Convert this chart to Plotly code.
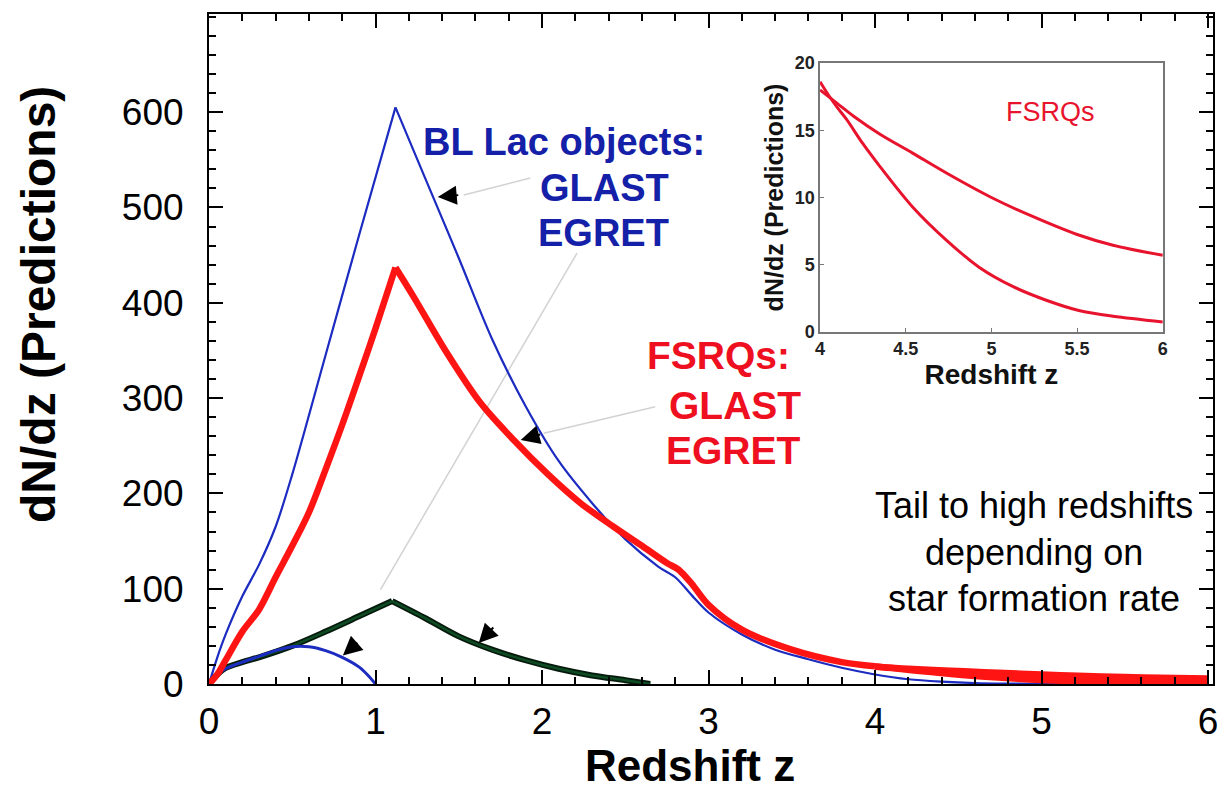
import plotly.graph_objects as go

# ---------------- data ----------------
# BL Lac objects, GLAST prediction (thin blue)
z_bl_glast = [0, 0.05, 0.1, 0.2, 0.3, 0.4, 0.5, 0.7, 0.9, 1.12, 1.3, 1.5, 1.7, 1.9, 2.1,
              2.3, 2.5, 2.7, 2.8, 2.9, 3.0, 3.2, 3.4, 3.6, 3.8, 4.0, 4.2, 4.4, 4.6, 4.8, 5.0, 6.0]
n_bl_glast = [0, 28, 52, 92, 125, 165, 220, 345, 470, 605, 530, 447, 362, 292, 234,
              190, 152, 123, 112, 93, 75, 52, 36, 26, 17, 10, 5, 2.5, 1, 0.4, 0.1, 0]

# FSRQs, GLAST prediction (thick red), up to z = 4
z_fsrq_glast = [0, 0.05, 0.1, 0.2, 0.3, 0.4, 0.5, 0.6, 0.7, 0.8, 0.9, 1.0, 1.12, 1.23, 1.43,
                1.63, 1.83, 2.03, 2.23, 2.43, 2.6, 2.75, 2.82, 2.9, 3.0, 3.2, 3.5, 3.8, 4.0]
n_fsrq_glast = [0, 10, 25, 55, 78, 112, 145, 180, 225, 272, 322, 373, 437, 406, 347,
                295, 256, 221, 190, 165, 145, 127, 120, 105, 83, 57, 36, 23, 18.6]

# FSRQs, EGRET (dark green)
z_fsrq_egret = [0, 0.05, 0.1, 0.2, 0.3, 0.5, 0.7, 0.9, 1.1, 1.3, 1.5, 1.7, 1.9, 2.1, 2.3, 2.5, 2.65]
n_fsrq_egret = [0, 10, 17, 23, 28, 40, 55, 71, 87, 69, 50, 36, 25, 16, 9, 4, 0]

# BL Lac objects, EGRET (small blue)
z_bl_egret = [0, 0.05, 0.1, 0.2, 0.3, 0.4, 0.5, 0.6, 0.7, 0.8, 0.9, 0.95, 1.0]
n_bl_egret = [0, 10, 16, 23, 29, 35, 39, 39, 35, 28, 18, 10, 0]

# High-redshift FSRQ tails (inset), two star-formation-rate scenarios
z_tail_high = [4.0, 4.1, 4.2, 4.35, 4.54, 4.74, 5.0, 5.22, 5.5, 5.71, 6.0]
n_tail_high = [18.0, 17.0, 16.0, 14.7, 13.3, 11.8, 10.0, 8.7, 7.25, 6.45, 5.7]
z_tail_low = [4.0, 4.05, 4.1, 4.155, 4.25, 4.35, 4.54, 4.74, 4.93, 5.13, 5.32, 5.51, 5.71, 6.0]
n_tail_low = [18.6, 17.6, 16.7, 15.8, 14.0, 12.3, 9.3, 6.8, 4.8, 3.35, 2.36, 1.6, 1.17, 0.75]

main_xticks = [0, 1, 2, 3, 4, 5, 6]
main_yticks = [0, 100, 200, 300, 400, 500, 600]
inset_xticks = [4, 4.5, 5, 5.5, 6]
inset_xticklabels = ["4", "4.5", "5", "5.5", "6"]
inset_yticks = [0, 5, 10, 15, 20]

# ---------------- styling ----------------
FONT = "Liberation Sans, Arial, Helvetica, sans-serif"
BLUE = "#1c2bc0"
BLUE_TXT = "#1420a8"
RED = "#ff1414"
RED_TXT = "#ee1020"
GREEN = "#0e4a22"
INSET_RED = "#e8142e"

# the page body has an 8px margin: size the figure so the plot lands where the reference has it
PAGE_OFF = 8
PLOT_L, PLOT_R, PLOT_T, PLOT_B = 209, 1213, 14, 684   # plot frame in window pixels
W, H = 1226 - PAGE_OFF, 796 - PAGE_OFF

fig = go.Figure()


def add_curve(xs, ys, color, width, split_at_peak=True, **kw):
    """Draw a curve as smooth splines; keep a sharp cusp at the maximum."""
    if split_at_peak:
        k = ys.index(max(ys))
        pieces = [(xs[:k + 1], ys[:k + 1]), (xs[k:], ys[k:])]
    else:
        pieces = [(xs, ys)]
    for px, py in pieces:
        fig.add_trace(go.Scatter(x=px, y=py, mode="lines",
                                 line=dict(color=color, width=width, shape="spline", smoothing=0.9),
                                 **kw))


# main curves (green line has a dark outline)
add_curve(z_fsrq_egret, n_fsrq_egret, "#051a0c", 6, cliponaxis=False)
add_curve(z_fsrq_egret, n_fsrq_egret, GREEN, 2.6, cliponaxis=False)
add_curve(z_bl_egret, n_bl_egret, BLUE, 3, split_at_peak=False, cliponaxis=False)
add_curve(z_bl_glast, n_bl_glast, BLUE, 2.2, cliponaxis=False)
add_curve(z_fsrq_glast, n_fsrq_glast, RED, 6.5, cliponaxis=False)
add_curve(z_tail_high, n_tail_high, RED, 6.5, split_at_peak=False, cliponaxis=False)
add_curve(z_tail_low, n_tail_low, RED, 6.5, split_at_peak=False, cliponaxis=False)

# inset curves
add_curve(z_tail_high, n_tail_high, INSET_RED, 3, split_at_peak=False, xaxis="x2", yaxis="y2")
add_curve(z_tail_low, n_tail_low, INSET_RED, 3, split_at_peak=False, xaxis="x2", yaxis="y2")

axis_common = dict(showline=True, linecolor="black", linewidth=2, mirror="allticks",
                   ticks="inside", tickcolor="black", tickwidth=2, ticklen=14,
                   showgrid=False, zeroline=False, automargin=False,
                   tickfont=dict(family=FONT, size=37, color="black"))

fig.update_layout(
    width=W, height=H,
    margin=dict(l=PLOT_L - PAGE_OFF, r=1226 - PLOT_R, t=PLOT_T - PAGE_OFF, b=796 - PLOT_B,
                autoexpand=False),
    paper_bgcolor="white", plot_bgcolor="white",
    showlegend=False,
    xaxis=dict(range=[0, 6.03], tickvals=main_xticks, domain=[0, 1], ticklabelstandoff=4,
               minor=dict(ticks="inside", dtick=0.2, ticklen=7, tickwidth=1.5, tickcolor="black"),
               **axis_common),
    yaxis=dict(range=[0, 703], tickvals=main_yticks, domain=[0, 1], ticklabelstandoff=16,
               minor=dict(ticks="inside", dtick=20, ticklen=7, tickwidth=1.5, tickcolor="black"),
               **axis_common),
    xaxis2=dict(domain=[0.6086, 0.950], anchor="y2", range=[4, 6], tickvals=inset_xticks,
                ticktext=inset_xticklabels, automargin=False,
                showline=True, linecolor="#777", linewidth=1.5, mirror=True,
                ticks="inside", ticklen=4, tickcolor="#777", showgrid=False, zeroline=False,
                tickfont=dict(family=FONT, size=18, color="#222", weight="bold"),
                title=dict(text="Redshift z", standoff=2,
                           font=dict(family=FONT, size=28, color="#111", weight="bold"))),
    yaxis2=dict(domain=[0.5254, 0.9269], anchor="x2", range=[0, 20], tickvals=inset_yticks,
                automargin=False,
                showline=True, linecolor="#777", linewidth=1.5, mirror=True,
                ticks="inside", ticklen=4, tickcolor="#777", showgrid=False, zeroline=False,
                tickfont=dict(family=FONT, size=18, color="#222", weight="bold"),
                title=dict(text="dN/dz (Predictions)", standoff=4,
                           font=dict(family=FONT, size=25, color="#111", weight="bold"))),
)

# white background for the inset
fig.add_shape(type="rect", xref="paper", yref="paper", x0=0.6086, x1=0.950, y0=0.5254, y1=0.9269,
              fillcolor="white", line=dict(width=0), layer="below")


def px_to_paper(x, y):
    return (x - PLOT_L) / (PLOT_R - PLOT_L), (PLOT_B - y) / (PLOT_B - PLOT_T)


# axis titles of the main panel
tx, ty = px_to_paper(690, 765)
fig.add_annotation(text="<b>Redshift z</b>", xref="paper", yref="paper", x=tx, y=ty,
                   xanchor="center", yanchor="middle", showarrow=False,
                   font=dict(family=FONT, size=44, color="black"))
tx, ty = px_to_paper(38, 305)
fig.add_annotation(text="<b>dN/dz (Predictions)</b>", xref="paper", yref="paper", x=tx, y=ty,
                   xanchor="center", yanchor="middle", textangle=-90, showarrow=False,
                   font=dict(family=FONT, size=48, color="black"))

# gray leader lines (data coordinates), drawn beneath the curves
leaders = [
    (1.93, 531, 1.53, 513),   # BL Lac GLAST
    (2.21, 452, 1.03, 99),    # BL Lac EGRET
    (2.68, 291, 2.01, 263),   # FSRQ GLAST
]
for x0, y0, x1, y1 in leaders:
    fig.add_shape(type="line", x0=x0, y0=y0, x1=x1, y1=y1, xref="x", yref="y",
                  line=dict(color="#d2d2d2", width=1.5), layer="below")

# black arrowheads
arrows = [
    (1.374, 511, 22, -2),
    (1.872, 256, 21, -6),
    (0.804, 30, 16, -14),
    (1.62, 43, 16, -17),
]
for x, y, ax, ay in arrows:
    fig.add_annotation(x=x, y=y, xref="x", yref="y", ax=ax, ay=ay, axref="pixel", ayref="pixel",
                       text="", showarrow=True, arrowhead=2, arrowsize=1.9, arrowwidth=2,
                       arrowcolor="black")


# text labels
def label(text, x, y, color, size, anchor="right", bold=True):
    lx, ly = px_to_paper(x, y)
    fig.add_annotation(text=("<b>%s</b>" % text) if bold else text,
                       xref="paper", yref="paper", x=lx, y=ly,
                       xanchor=anchor, yanchor="middle", showarrow=False,
                       font=dict(family=FONT, size=size, color=color))


label("BL Lac objects:", 707, 142, BLUE_TXT, 38)
label("GLAST", 671, 188, BLUE_TXT, 38)
label("EGRET", 671, 233, BLUE_TXT, 38)
label("FSRQs:", 792, 355, RED_TXT, 39)
label("GLAST", 803, 405, RED_TXT, 39)
label("EGRET", 803, 450, RED_TXT, 39)
label("Tail to high redshifts", 1034, 505, "black", 36, anchor="center", bold=False)
label("depending on", 1034, 552, "black", 36, anchor="center", bold=False)
label("star formation rate", 1034, 598, "black", 36, anchor="center", bold=False)
label("FSRQs", 1050, 112, INSET_RED, 27, anchor="center", bold=False)

fig.write_html("out.html")
